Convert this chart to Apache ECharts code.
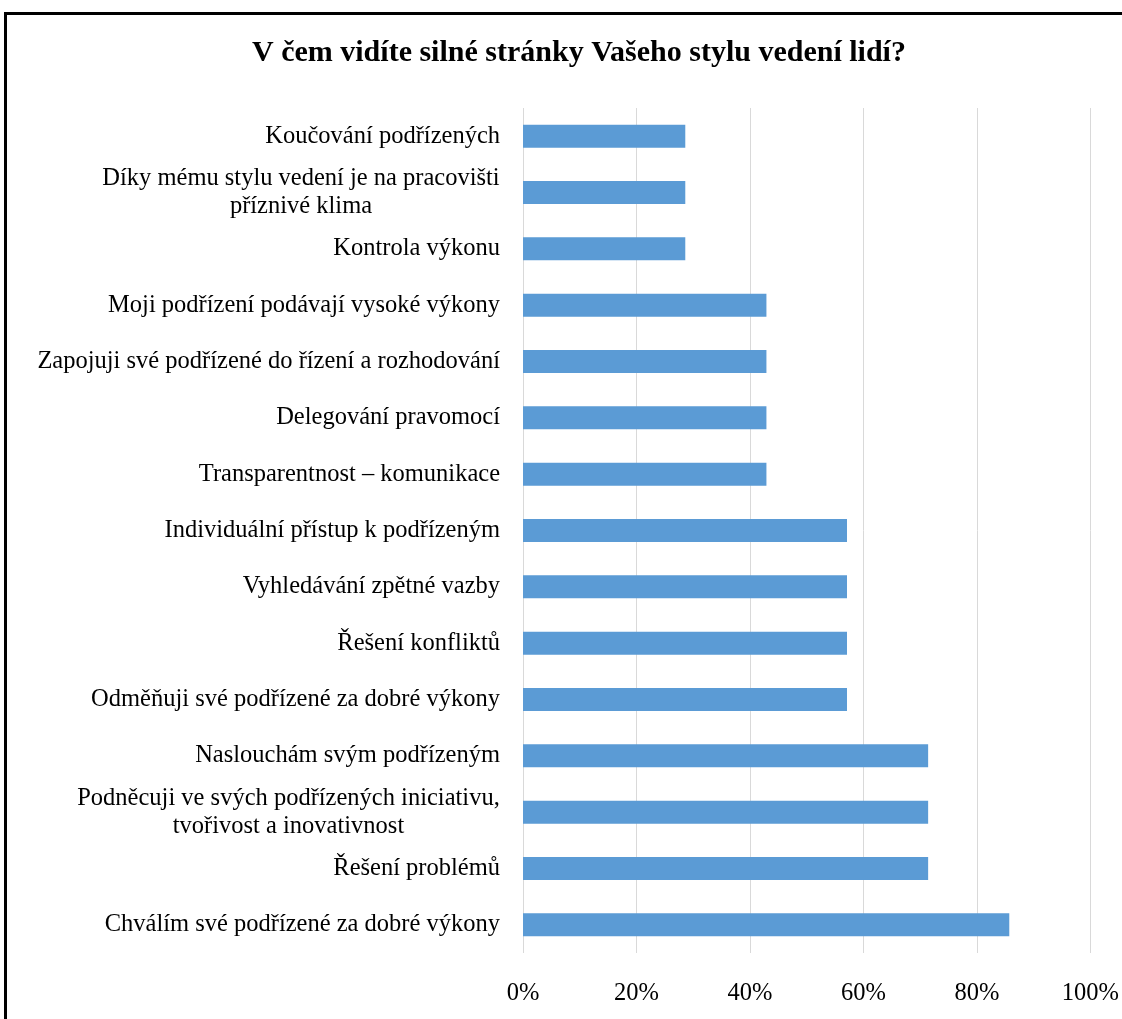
<!DOCTYPE html>
<html><head><meta charset="utf-8">
<script src="https://cdn.jsdelivr.net/npm/echarts@6/dist/echarts.min.js"></script>
<style>
html,body{margin:0;padding:0;background:#fff;}
#frame{position:absolute;left:4px;top:12px;width:1200px;height:1100px;border-top:3px solid #000;border-left:3px solid #000;}
#chart{position:absolute;left:0;top:0;width:1122px;height:1019px;}
</style></head>
<body>
<div id="frame"></div>
<div id="chart"></div>
<script>
const title = 'V čem vidíte silné stránky Vašeho stylu vedení lidí?';
// top-to-bottom order as shown
const categories = [
  'Koučování podřízených',
  'Díky mému stylu vedení je na pracovišti\npříznivé klima',
  'Kontrola výkonu',
  'Moji podřízení podávají vysoké výkony',
  'Zapojuji své podřízené do řízení a rozhodování',
  'Delegování pravomocí',
  'Transparentnost – komunikace',
  'Individuální přístup k podřízeným',
  'Vyhledávání zpětné vazby',
  'Řešení konfliktů',
  'Odměňuji své podřízené za dobré výkony',
  'Naslouchám svým podřízeným',
  'Podněcuji ve svých podřízených iniciativu,\ntvořivost a inovativnost',
  'Řešení problémů',
  'Chválím své podřízené za dobré výkony'
];
const values = [28.6, 28.6, 28.6, 42.9, 42.9, 42.9, 42.9, 57.1, 57.1, 57.1, 57.1, 71.4, 71.4, 71.4, 85.7];
const xTicks = [0, 20, 40, 60, 80, 100];

const FONT = "'Liberation Serif', 'Times New Roman', serif";
const LFS = 24.5;
const ctx = document.createElement('canvas').getContext('2d');
ctx.font = LFS + 'px ' + FONT;
const rich = {};
const richKey = {};
categories.forEach((c, i) => {
  if (!c.includes('\n')) return;
  const w = Math.ceil(Math.max(...c.split('\n').map(l => ctx.measureText(l).width)));
  const k = 'c' + i;
  richKey[c] = k;
  rich[k] = { width: w, align: 'center', fontFamily: FONT, fontSize: LFS, color: '#000', lineHeight: 28 };
});
function fmt(v) {
  const k = richKey[v];
  if (!k) return v;
  return v.split('\n').map(l => '{' + k + '|' + l + '}').join('\n');
}

const chart = echarts.init(document.getElementById('chart'));
chart.setOption({
  animation: false,
  backgroundColor: 'transparent',
  title: {
    text: title, left: 247, top: 33,
    textStyle: { fontFamily: FONT, fontWeight: 'bold', fontSize: 30, color: '#000' }
  },
  grid: { left: 523, right: 30, top: 108, bottom: 66, containLabel: false },
  xAxis: {
    type: 'value', min: xTicks[0], max: xTicks[xTicks.length - 1], interval: 20,
    axisLine: { show: false }, axisTick: { show: false },
    splitLine: { lineStyle: { color: '#D9D9D9', width: 1 } },
    axisLabel: { formatter: v => v + '%', fontFamily: FONT, fontSize: LFS, color: '#000', margin: 28 }
  },
  yAxis: {
    type: 'category', inverse: true, data: categories,
    axisLine: { show: false }, axisTick: { show: false },
    axisLabel: {
      fontFamily: FONT, fontSize: LFS, color: '#000', margin: 23, lineHeight: 28,
      formatter: fmt,
      rich: rich
    }
  },
  series: [{
    type: 'bar', data: values, barWidth: 23,
    itemStyle: { color: '#5B9BD5' }
  }]
});
</script>
</body></html>
